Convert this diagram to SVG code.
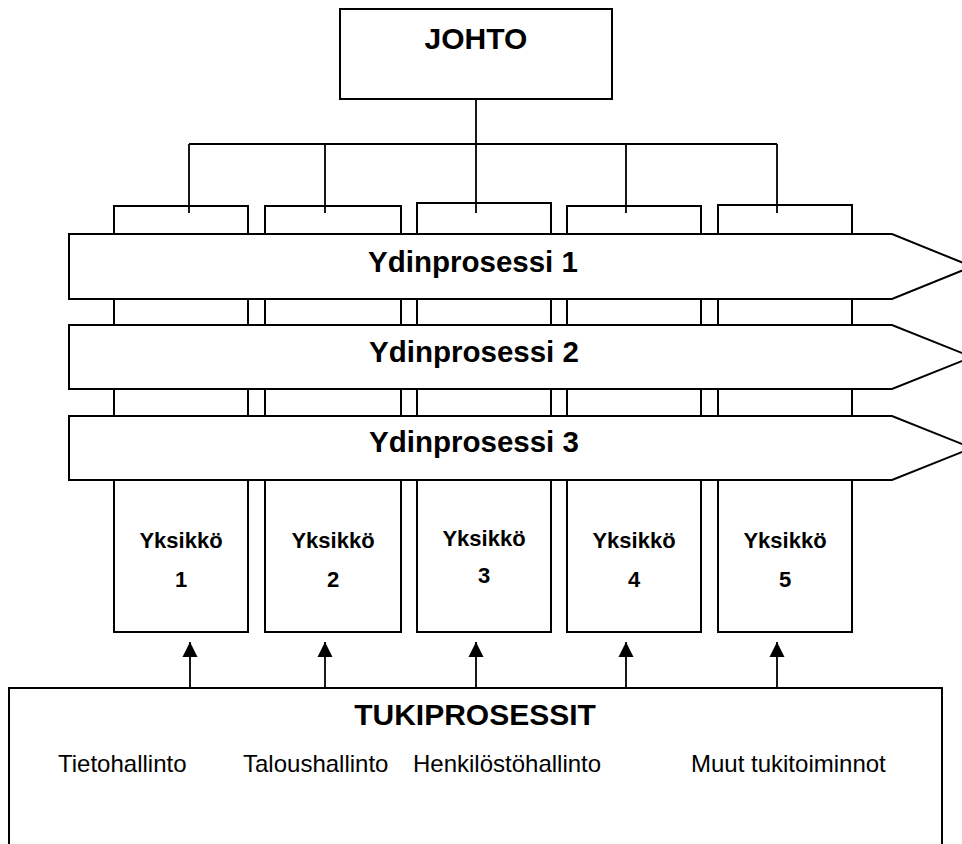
<svg xmlns="http://www.w3.org/2000/svg" width="962" height="844" viewBox="0 0 962 844">
<defs>
<style>
.box{fill:#fff;stroke:#000;stroke-width:2}
.ban{fill:#fff;stroke:#000;stroke-width:2;stroke-linejoin:miter}
.ln{fill:none;stroke:#000;stroke-width:1.8}
.b30{font-family:"Liberation Sans",Arial,sans-serif;font-weight:bold;font-size:30px;text-anchor:middle;fill:#000}
.b29{font-family:"Liberation Sans",Arial,sans-serif;font-weight:bold;font-size:29.5px;text-anchor:middle;fill:#000}
.b22{font-family:"Liberation Sans",Arial,sans-serif;font-weight:bold;font-size:22px;text-anchor:middle;fill:#000}
.r24{font-family:"Liberation Sans",Arial,sans-serif;font-size:24px;fill:#000}
</style>
<marker id="ah" markerUnits="userSpaceOnUse" markerWidth="16" markerHeight="16" viewBox="0 0 16 16" refX="15" refY="8" orient="auto">
<path d="M0,0.5 L15,8 L0,15.5 Z" fill="#000"/>
</marker>
</defs>
<rect width="962" height="844" fill="#fff"/>
<g id="johto">
<rect class="box" x="340" y="9" width="272" height="90"/>
<text class="b30" x="476" y="49">JOHTO</text>
</g>
<g id="units">
<g id="unit1"><rect class="box" x="114" y="206" width="134" height="426"/><text class="b22" x="181" y="548">Yksikkö</text><text class="b22" x="181" y="587">1</text></g>
<g id="unit2"><rect class="box" x="265" y="206" width="136" height="426"/><text class="b22" x="333" y="548">Yksikkö</text><text class="b22" x="333" y="587">2</text></g>
<g id="unit3"><rect class="box" x="417" y="203" width="134" height="429"/><text class="b22" x="484" y="546">Yksikkö</text><text class="b22" x="484" y="583">3</text></g>
<g id="unit4"><rect class="box" x="567" y="206" width="134" height="426"/><text class="b22" x="634" y="548">Yksikkö</text><text class="b22" x="634" y="587">4</text></g>
<g id="unit5"><rect class="box" x="718" y="205" width="134" height="427"/><text class="b22" x="785" y="548">Yksikkö</text><text class="b22" x="785" y="587">5</text></g>
</g>
<g id="connectors">
<path class="ln" d="M476,99 V144 M189,144 H777 M189,144 V213 M325,144 V213 M476,144 V213 M626,144 V213 M777,144 V213"/>
<path class="ln" marker-end="url(#ah)" d="M190,687 V642"/>
<path class="ln" marker-end="url(#ah)" d="M325,687 V642"/>
<path class="ln" marker-end="url(#ah)" d="M476,687 V642"/>
<path class="ln" marker-end="url(#ah)" d="M626,687 V642"/>
<path class="ln" marker-end="url(#ah)" d="M777,687 V642"/>
</g>
<g id="ydin1">
<polygon class="ban" points="69,234 892,234 972,266.5 892,299 69,299"/>
<text class="b29" x="473" y="272">Ydinprosessi 1</text>
</g>
<g id="ydin2">
<polygon class="ban" points="69,325 892,325 972,357 892,389 69,389"/>
<text class="b29" x="474" y="362">Ydinprosessi 2</text>
</g>
<g id="ydin3">
<polygon class="ban" points="69,416 892,416 972,448 892,480 69,480"/>
<text class="b29" x="474" y="452">Ydinprosessi 3</text>
</g>
<g id="tuki">
<rect class="box" x="9" y="688" width="933" height="170"/>
<text class="b30" x="475" y="725">TUKIPROSESSIT</text>
<text class="r24" x="58" y="772">Tietohallinto</text>
<text class="r24" x="243" y="772">Taloushallinto</text>
<text class="r24" x="413" y="772">Henkilöstöhallinto</text>
<text class="r24" x="691" y="772">Muut tukitoiminnot</text>
</g>
</svg>
